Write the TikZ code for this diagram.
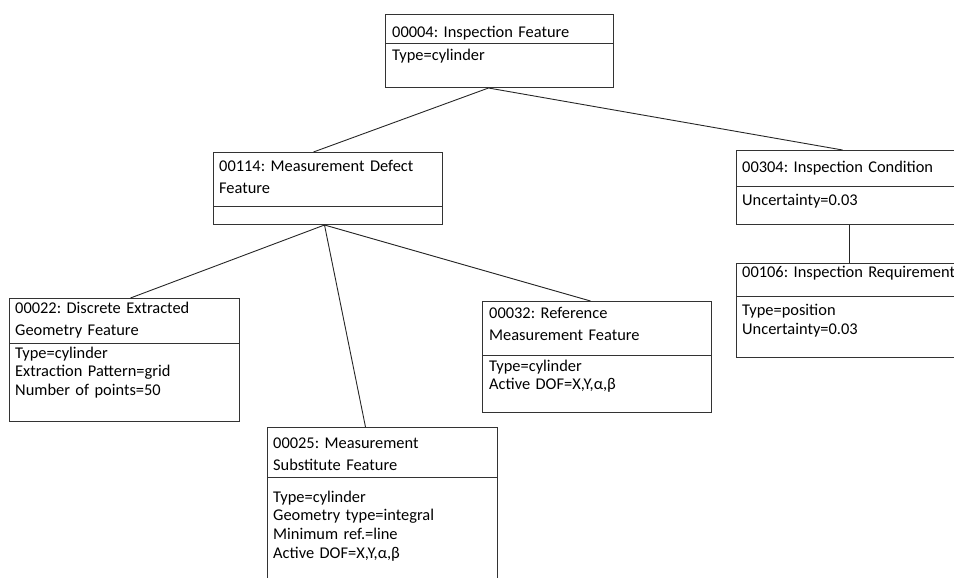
\documentclass[tikz,border=0pt]{standalone}
\usepackage{fontspec}
\setmainfont{Carlito}
\usetikzlibrary{positioning}
\frenchspacing

\begin{document}
\begin{tikzpicture}[x=1pt,y=-1pt]
	\tikzstyle{box}=[draw=black!80,line width=1pt,anchor=north west,inner sep=0pt,minimum width=229pt]
	\tikzstyle{head}=[anchor=base west,inner sep=0pt,text width=300pt,align=left,font=\fontsize{16.4}{22}\selectfont]
	\tikzstyle{attr}=[anchor=base west,inner sep=0pt,text width=300pt,align=left,font=\fontsize{16.4}{18.7}\selectfont]
	\tikzstyle{link}=[draw=black!85,line width=0.9pt]
	\useasboundingbox (0,0) rectangle (954,578);
	\clip (0,0) rectangle (954,578);
	% boxes
	\node[box,minimum width=228pt,minimum height=73pt] (4) at (385,14) {};
	\node[box,minimum height=72pt] (114) at (213,152) {};
	\node[box,minimum height=74pt] (304) at (736,150) {};
	\node[box,minimum height=94pt] (106) at (736,263) {};
	\node[box,minimum width=230pt,minimum height=123pt] (22) at (9,298) {};
	\node[box,minimum width=230pt,minimum height=170pt] (25) at (267,427) {};
	\node[box,minimum height=111pt] (32) at (482,301) {};
	% dividers
	\draw[draw=black!80,line width=1pt] (4.north west) ++(0,30) -- ++(228,0);
	\draw[draw=black!80,line width=1pt] (114.north west) ++(0,54) -- ++(229,0);
	\draw[draw=black!80,line width=1pt] (304.north west) ++(0,36) -- ++(229,0);
	\draw[draw=black!80,line width=1pt] (106.north west) ++(0,33) -- ++(229,0);
	\draw[draw=black!80,line width=1pt] (22.north west) ++(0,45) -- ++(230,0);
	\draw[draw=black!80,line width=1pt] (25.north west) ++(0,50) -- ++(230,0);
	\draw[draw=black!80,line width=1pt] (32.north west) ++(0,54) -- ++(229,0);
	% texts
	\node[head] (4n) at (392,37.5) {00004: Inspection Feature};
	\node[attr] (4a) at (392,61) {Type=cylinder};
	\node[head] (114n) at (219,171) {00114: Measurement Defect\\Feature};
	\node[head] (304n) at (742,172) {00304: Inspection Condition};
	\node[attr] (304a) at (742,205) {Uncertainty=0.03};
	\node[head] (106n) at (742,277.7) {00106: Inspection Requirement};
	\node[attr] (106a) at (742,315.3) {Type=position\\Uncertainty=0.03};
	\node[head] (22n) at (15,313.8) {00022: Discrete Extracted\\Geometry Feature};
	\node[attr] (22a) at (15,358) {Type=cylinder\\Extraction Pattern=grid\\Number of points=50};
	\node[head] (25n) at (273,448.3) {00025: Measurement\\Substitute Feature};
	\node[attr] (25a) at (273,502) {Type=cylinder\\Geometry type=integral\\Minimum ref.=line\\Active DOF=X,Y,α,β};
	\node[head] (32n) at (489,318.7) {00032: Reference\\Measurement Feature};
	\node[attr] (32a) at (489,371) {Type=cylinder\\Active DOF=X,Y,α,β};
	% links
	\draw[link] ([xshift=-11pt]4.south) -- ([xshift=-14.5pt]114.north);
	\draw[link] ([xshift=-11pt]4.south) -- ([xshift=-8.5pt]304.north);
	\draw[link] ([xshift=-1.5pt]304.south) -- ([xshift=-1.5pt]106.north);
	\draw[link] ([xshift=-3.5pt]114.south) -- ([xshift=6pt]22.north);
	\draw[link] ([xshift=-3.5pt]114.south) -- ([xshift=-17pt]25.north);
	\draw[link] ([xshift=-3.5pt]114.south) -- ([xshift=-6.5pt]32.north);
\end{tikzpicture}
\end{document}
